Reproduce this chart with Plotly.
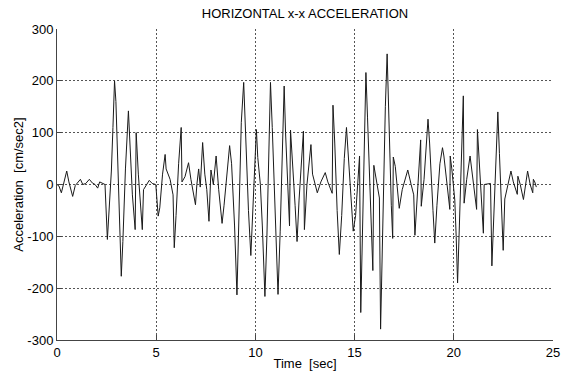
import plotly.graph_objects as go

time_s = [0.00, 0.10, 0.22, 0.35, 0.49, 0.60, 0.79, 0.92, 1.05, 1.18, 1.30, 1.45, 1.63, 1.78, 1.92,
          2.05, 2.15, 2.28, 2.42, 2.54, 2.62, 2.74, 2.82, 2.90, 2.97, 3.10, 3.24, 3.32, 3.45, 3.60,
          3.66, 3.80, 3.94, 3.99, 4.10, 4.30, 4.36, 4.50, 4.65, 4.80, 4.98, 5.10, 5.18, 5.32, 5.45,
          5.50, 5.70, 5.85, 5.91, 6.00, 6.13, 6.26, 6.30, 6.45, 6.63, 6.75, 6.85, 6.98, 7.05, 7.14,
          7.22, 7.34, 7.45, 7.55, 7.66, 7.76, 7.88, 8.02, 8.15, 8.32, 8.42, 8.55, 8.70, 8.80, 8.95,
          9.07, 9.16, 9.29, 9.41, 9.50, 9.65, 9.77, 9.87, 9.95, 10.05, 10.12, 10.25, 10.35, 10.48,
          10.58, 10.70, 10.76, 10.85, 11.00, 11.14, 11.25, 11.35, 11.45, 11.52, 11.72, 11.77, 11.85,
          12.00, 12.10, 12.20, 12.42, 12.47, 12.60, 12.80, 12.88, 13.12, 13.30, 13.52, 13.65, 13.87,
          13.91, 14.00, 14.12, 14.23, 14.35, 14.48, 14.59, 14.68, 14.80, 14.93, 15.05, 15.15, 15.25,
          15.31, 15.40, 15.50, 15.57, 15.65, 15.80, 15.92, 15.97, 16.10, 16.25, 16.31, 16.40, 16.55,
          16.64, 16.72, 16.85, 16.92, 16.95, 17.05, 17.25, 17.40, 17.68, 17.85, 17.98, 18.04, 18.15,
          18.33, 18.36, 18.50, 18.70, 18.78, 18.95, 19.04, 19.15, 19.30, 19.43, 19.50, 19.80, 19.82,
          19.90, 20.05, 20.12, 20.19, 20.28, 20.40, 20.48, 20.52, 20.65, 20.82, 20.92, 21.15, 21.19,
          21.30, 21.49, 21.53, 21.85, 21.92, 22.00, 22.10, 22.22, 22.30, 22.49, 22.57, 22.88, 23.00,
          23.20, 23.23, 23.35, 23.51, 23.72, 23.85, 23.98, 24.01, 24.08, 24.16]

accel = [0, -3, -16, 2, 26, 5, -23, -2, 3, 10, 0, 2, 10, 3, 0,
         -7, 5, 2, 0, -106, -50, 26, 110, 200, 160, -20, -177, -110, 30, 142,
         100, -20, -87, 100, 20, -87, -10, 0, 8, 2, 0, -61, -45, 20, 58,
         30, 10, -20, -122, -60, 40, 110, 5, 15, 42, 10, -15, -39, 0, 30,
         -5, 81, 20, -10, -71, 28, 0, 55, -10, -75, -40, 20, 75, 40, -80,
         -213, -90, 120, 197, 100, -50, -137, -60, 0, 106, 52, 0, -80, -216,
         -100, 100, 197, 110, -50, -212, -90, 60, 190, 100, -80, 105, 60,
         -40, -110, -30, 103, -87, 0, 77, 20, -16, 5, 23, 5, -17,
         153, 80, -50, -135, -60, 50, 110, 60, -20, -90, -60, 0, 55,
         -247, -100, 100, 216, 130, -60, -166, 37, 10, -26, -279, -100, 150,
         252, 120, -40, -104, 53, 35, -46, -10, 28, 0, -20, -98, -20,
         86, -42, 10, 126, 80, -50, -113, -40, 40, 71, 55, -48, 55,
         30, -30, -100, -190, -80, 100, 171, -36, 10, 55, 20, -48, 106,
         30, -94, 0, 2, -157, -80, 30, 140, 60, -127, -28, 26, 5,
         -19, 16, 0, -29, 26, 0, -16, 10, 5, -5]

x_ticks = [0, 5, 10, 15, 20, 25]
y_ticks = [-300, -200, -100, 0, 100, 200, 300]

font_family = "Arial, Liberation Sans, Helvetica, sans-serif"

fig = go.Figure()
fig.add_trace(go.Scatter(x=time_s, y=accel, mode="lines",
                         line=dict(color="#1a1a1a", width=1), showlegend=False))

axis_common = dict(
    showgrid=True, gridcolor="#555555", griddash="2px,2px", gridwidth=1,
    showline=True, linecolor="#444444", linewidth=1,
    ticks="inside", ticklen=5, tickcolor="#444444",
    zeroline=False, automargin=False,
    tickfont=dict(family=font_family, size=13, color="black"),
)

fig.update_layout(
    width=565, height=374,
    margin=dict(l=57, r=12, t=29, b=34),
    paper_bgcolor="white", plot_bgcolor="white",
    title=dict(text="HORIZONTAL x-x ACCELERATION", x=0.5, xref="paper", xanchor="center",
               y=1, yref="container", yanchor="top", pad=dict(t=9),
               font=dict(family=font_family, size=13, color="black")),
    xaxis=dict(range=[0, 25], tickvals=x_ticks, ticktext=[str(v) for v in x_ticks],
               title=dict(text="Time \u00a0[sec]", standoff=0,
                          font=dict(family=font_family, size=13, color="black")),
               **axis_common),
    yaxis=dict(range=[-300, 300], tickvals=y_ticks, ticktext=[str(v) for v in y_ticks],
               title=dict(text="Acceleration \u00a0[cm/sec2]", standoff=0,
                          font=dict(family=font_family, size=13, color="black")),
               **axis_common),
)

fig.write_html("out.html")
